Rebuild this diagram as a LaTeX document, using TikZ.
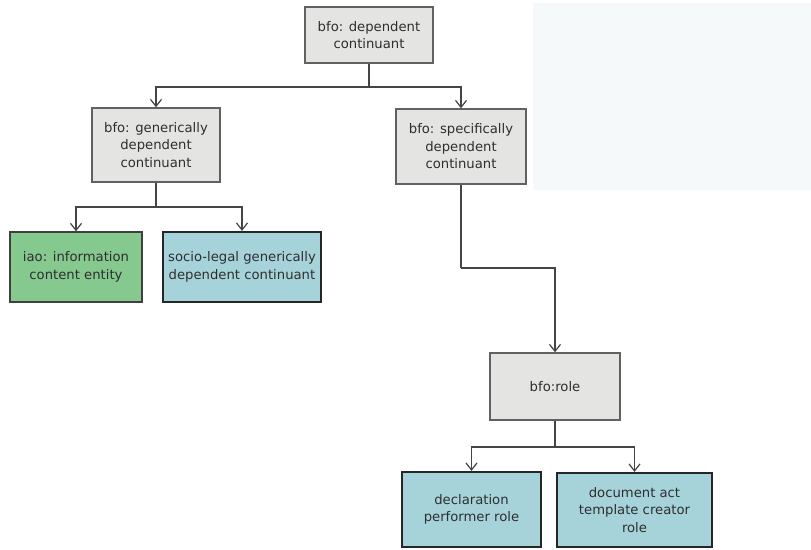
\documentclass[tikz,border=0pt]{standalone}
\usepackage{fontspec}
\setmainfont{DejaVu Sans}
\usetikzlibrary{arrows.meta}
\definecolor{boxgray}{HTML}{E4E4E2}
\definecolor{boxblue}{HTML}{A6D3DA}
\definecolor{boxgreen}{HTML}{86C98E}
\definecolor{edgecol}{HTML}{454545}
\definecolor{txtcol}{HTML}{2E2E2E}
\definecolor{haze}{HTML}{F6F9F9}
\tikzset{
  x=1pt, y=-1pt,
  cls/.style={draw, align=center, inner sep=0pt, text=txtcol,
    font=\fontsize{13.2}{17.5}\selectfont},
  graybox/.style={cls, fill=boxgray, draw=edgecol!85, line width=1.4pt},
  bluebox/.style={cls, fill=boxblue, draw=black!85, line width=2.2pt},
  greenbox/.style={cls, fill=boxgreen, draw=black!75, line width=1.4pt},
  link/.style={draw=edgecol, line width=1.4pt},
  isa/.style={link, -{Straight Barb[length=7pt,width=11pt,line width=1.2pt]}},
}
\begin{document}
\begin{tikzpicture}
\useasboundingbox (0,0) rectangle (811,549);
\fill[white] (0,0) rectangle (811,549);
\fill[haze] (533,3) rectangle (811,190);

% class nodes
\node[graybox, minimum width=128pt, minimum height=56pt] (dc) at (369,35) {bfo: dependent\\continuant};
\node[graybox, minimum width=128pt, minimum height=74pt] (gdc) at (156,145) {bfo: generically\\dependent\\continuant};
\node[graybox, minimum width=130pt, minimum height=75pt] (sdc) at (461,146.5) {bfo: specifically\\dependent\\continuant};
\node[greenbox, minimum width=132pt, minimum height=70pt] (ice) at (76,267) {iao: information\\content entity};
\node[bluebox, minimum width=158pt, minimum height=70pt] (slgdc) at (242,267) {socio-legal generically\\dependent continuant};
\node[graybox, minimum width=130pt, minimum height=67pt] (role) at (555,386.5) {bfo:role};
\node[bluebox, minimum width=139pt, minimum height=75pt] (dpr) at (471.5,509.5) {declaration\\performer role};
\node[bluebox, minimum width=155pt, minimum height=74pt] (datcr) at (634.5,510) {document act\\template creator\\role};

% branching points
\coordinate (j1) at (369,87);
\coordinate (j2) at (156,207);
\coordinate (j3) at (461,268);
\coordinate (j4) at (555,447);

% subclass links
\draw[link] (dc.south) -- (j1);
\draw[isa] (j1) -| (gdc.north);
\draw[isa] (j1) -| (sdc.north);
\draw[link] (gdc.south) -- (j2);
\draw[isa] (j2) -| (ice.north);
\draw[isa] (j2) -| (slgdc.north);
\draw[link] (sdc.south) -- (j3);
\draw[isa] (j3) -| (role.north);
\draw[link] (role.south) -- (j4);
\draw[isa] (j4) -| (dpr.north);
\draw[isa] (j4) -| (datcr.north);
\end{tikzpicture}
\end{document}
